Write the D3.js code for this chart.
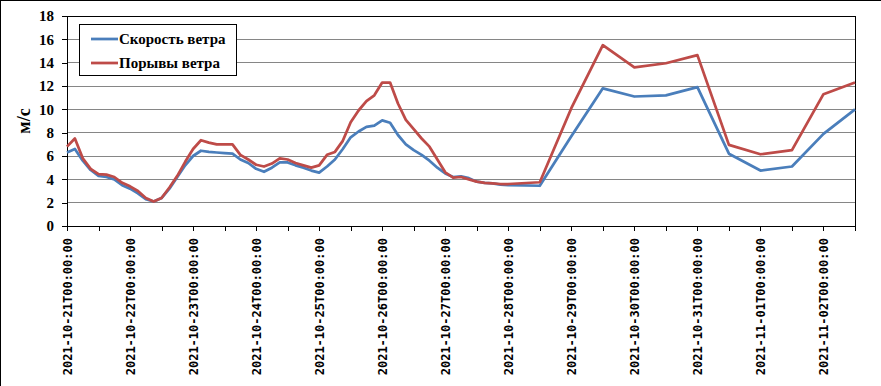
<!DOCTYPE html>
<html>
<head>
<meta charset="utf-8">
<script src="https://cdn.jsdelivr.net/npm/d3@7"></script>
<style>
    body { margin: 0; background: #fff; }
    .grid line { stroke: #868686; stroke-width: 1; shape-rendering: crispEdges; }
    .axis path, .axis line { stroke: #000; shape-rendering: crispEdges; }
    .serif { font-family: "Times New Roman", "Liberation Serif", "DejaVu Serif", serif; font-weight: bold; }
    .yAxis text { font-family: "Times New Roman", "Liberation Serif", "DejaVu Serif", serif; font-weight: bold; font-size: 15px; fill: #000; }
    .xAxis text { font-family: "DejaVu Sans Mono", "Liberation Mono", monospace; font-weight: bold; font-size: 12px; fill: #000; }
    .legend text { font-family: "Times New Roman", "Liberation Serif", "DejaVu Serif", serif; font-weight: bold; font-size: 15px; fill: #000; }
</style>
</head>
<body>
<svg id="chart" width="881" height="386"></svg>
<script>
    // time stamps: 3-hourly up to Oct 28, then every 12 hours
    let times = [
        "2021-10-21T00:00", "2021-10-21T03:00", "2021-10-21T06:00", "2021-10-21T09:00",
        "2021-10-21T12:00", "2021-10-21T15:00", "2021-10-21T18:00", "2021-10-21T21:00",
        "2021-10-22T00:00", "2021-10-22T03:00", "2021-10-22T06:00", "2021-10-22T09:00",
        "2021-10-22T12:00", "2021-10-22T15:00", "2021-10-22T18:00", "2021-10-22T21:00",
        "2021-10-23T00:00", "2021-10-23T03:00", "2021-10-23T06:00", "2021-10-23T09:00",
        "2021-10-23T12:00", "2021-10-23T15:00", "2021-10-23T18:00", "2021-10-23T21:00",
        "2021-10-24T00:00", "2021-10-24T03:00", "2021-10-24T06:00", "2021-10-24T09:00",
        "2021-10-24T12:00", "2021-10-24T15:00", "2021-10-24T18:00", "2021-10-24T21:00",
        "2021-10-25T00:00", "2021-10-25T03:00", "2021-10-25T06:00", "2021-10-25T09:00",
        "2021-10-25T12:00", "2021-10-25T15:00", "2021-10-25T18:00", "2021-10-25T21:00",
        "2021-10-26T00:00", "2021-10-26T03:00", "2021-10-26T06:00", "2021-10-26T09:00",
        "2021-10-26T12:00", "2021-10-26T15:00", "2021-10-26T18:00", "2021-10-26T21:00",
        "2021-10-27T00:00", "2021-10-27T03:00", "2021-10-27T06:00", "2021-10-27T09:00",
        "2021-10-27T12:00", "2021-10-27T15:00", "2021-10-27T18:00", "2021-10-27T21:00",
        "2021-10-28T00:00", "2021-10-28T12:00",
        "2021-10-29T00:00", "2021-10-29T12:00", "2021-10-30T00:00", "2021-10-30T12:00",
        "2021-10-31T00:00", "2021-10-31T12:00", "2021-11-01T00:00", "2021-11-01T12:00",
        "2021-11-02T00:00", "2021-11-02T12:00"
    ];

    // Скорость ветра
    let windSpeed = [
        6.3, 6.6, 5.6, 4.8, 4.3, 4.2, 4.0, 3.5,
        3.2, 2.8, 2.3, 2.1, 2.4, 3.2, 4.2, 5.2,
        6.0, 6.45, 6.35, 6.3, 6.25, 6.2, 5.7, 5.4,
        4.9, 4.65, 5.0, 5.45, 5.45, 5.2, 5.0, 4.75,
        4.57, 5.1, 5.7, 6.6, 7.6, 8.1, 8.5, 8.6,
        9.05, 8.85, 7.8, 7.0, 6.5, 6.1, 5.6, 5.0,
        4.5, 4.2, 4.25, 4.1, 3.8, 3.7, 3.65, 3.55,
        3.5, 3.45,
        7.7, 11.8, 11.1, 11.2, 11.9, 6.2, 4.75, 5.1, 7.9, 10.0
    ];

    // Порывы ветра
    let windGust = [
        6.8, 7.5, 5.8, 4.9, 4.45, 4.4, 4.2, 3.7,
        3.4, 3.0, 2.4, 2.1, 2.4, 3.3, 4.3, 5.5,
        6.6, 7.35, 7.15, 7.0, 7.0, 7.0, 6.1, 5.7,
        5.25, 5.1, 5.35, 5.8, 5.7, 5.4, 5.2, 5.0,
        5.2, 6.1, 6.35, 7.3, 8.9, 9.9, 10.7, 11.2,
        12.3, 12.3, 10.5, 9.1, 8.3, 7.5, 6.8, 5.7,
        4.6, 4.15, 4.2, 4.0, 3.8, 3.7, 3.65, 3.6,
        3.6, 3.75,
        10.1, 15.5, 13.6, 13.95, 14.65, 6.95, 6.15, 6.5, 11.3, 12.3
    ];

    let seriesNames = ["Скорость ветра", "Порывы ветра"];
    let seriesColors = ["#4a7ebb", "#be4b48"];
    let yTicks = [0, 2, 4, 6, 8, 10, 12, 14, 16, 18];
    let xStart = "2021-10-21T00:00";
    let xEnd = "2021-11-02T12:00";
    let yTitle = "м/с";

    let svg = d3.select("#chart");
    let width = parseInt(svg.attr("width"));
    let height = parseInt(svg.attr("height"));
    let margin = {top: 16, right: 26, bottom: 160, left: 67};
    let plotW = width - margin.left - margin.right;
    let plotH = height - margin.top - margin.bottom;

    let parse = d3.utcParse("%Y-%m-%dT%H:%M");
    let fmt = d3.utcFormat("%Y-%m-%dT%H:%M:%S");

    let xScale = d3.scaleUtc()
        .domain([parse(xStart), parse(xEnd)])
        .range([0, plotW]);
    let yScale = d3.scaleLinear()
        .domain([0, 18])
        .range([plotH, 0]);

    // outer frame (left and top edges)
    svg.append("line").attr("x1", 0.5).attr("y1", 0).attr("x2", 0.5).attr("y2", height)
        .attr("stroke", "#000");
    svg.append("line").attr("x1", 0).attr("y1", 0.5).attr("x2", width).attr("y2", 0.5)
        .attr("stroke", "#000");

    let g = svg.append("g")
        .attr("transform", "translate(" + margin.left + "," + margin.top + ")");

    // horizontal grid
    g.append("g").attr("class", "grid")
        .selectAll("line")
        .data(yTicks.slice(1))
        .enter().append("line")
        .attr("x1", 0).attr("x2", plotW)
        .attr("y1", d => yScale(d)).attr("y2", d => yScale(d));

    // y axis
    let yAxis = d3.axisLeft(yScale)
        .tickValues(yTicks)
        .tickSize(5)
        .tickPadding(8)
        .tickSizeOuter(0);
    g.append("g").attr("class", "axis yAxis").call(yAxis);

    // x axis: tick every 12 hours, label every day
    let xTickValues = d3.utcHour.every(12).range(parse(xStart), new Date(parse(xEnd).getTime() + 1));
    let xAxis = d3.axisBottom(xScale)
        .tickValues(xTickValues)
        .tickSize(5)
        .tickSizeOuter(0)
        .tickFormat(d => d.getUTCHours() === 0 ? fmt(d) : "");
    g.append("g").attr("class", "axis xAxis")
        .attr("transform", "translate(0," + plotH + ")")
        .call(xAxis)
        .selectAll("text")
        .attr("transform", "rotate(-90)")
        .attr("x", -12)
        .attr("y", 0)
        .attr("dy", "0.35em")
        .style("text-anchor", "end");

    // right and top edges of plot area
    g.append("line")
        .attr("x1", plotW).attr("x2", plotW).attr("y1", 0).attr("y2", plotH)
        .attr("stroke", "#000").style("shape-rendering", "crispEdges");
    g.append("line")
        .attr("x1", 0).attr("x2", plotW).attr("y1", 0).attr("y2", 0)
        .attr("stroke", "#000").style("shape-rendering", "crispEdges");

    // lines
    let seriesData = [windSpeed, windGust];
    let line = d3.line()
        .x((d, i) => xScale(parse(times[i])))
        .y(d => yScale(d));
    seriesData.forEach(function (values, k) {
        g.append("path")
            .datum(values)
            .attr("fill", "none")
            .attr("stroke", seriesColors[k])
            .attr("stroke-width", 2.75)
            .attr("stroke-linejoin", "round")
            .attr("d", line);
    });

    // y title
    svg.append("text")
        .attr("class", "serif")
        .attr("transform", "translate(30,121) rotate(-90)")
        .attr("text-anchor", "middle")
        .style("font-size", "18px")
        .text(yTitle);

    // legend
    let legend = svg.append("g").attr("class", "legend");
    legend.append("rect")
        .attr("x", 79.5).attr("y", 24.5)
        .attr("width", 157).attr("height", 51)
        .attr("fill", "#fff").attr("stroke", "#000");
    seriesNames.forEach(function (name, k) {
        let ly = 39 + k * 24;
        legend.append("line")
            .attr("x1", 91).attr("x2", 118)
            .attr("y1", ly).attr("y2", ly)
            .attr("stroke", seriesColors[k])
            .attr("stroke-width", 2.75);
        legend.append("text")
            .attr("x", 119).attr("y", ly + 5)
            .text(name);
    });
</script>
</body>
</html>
